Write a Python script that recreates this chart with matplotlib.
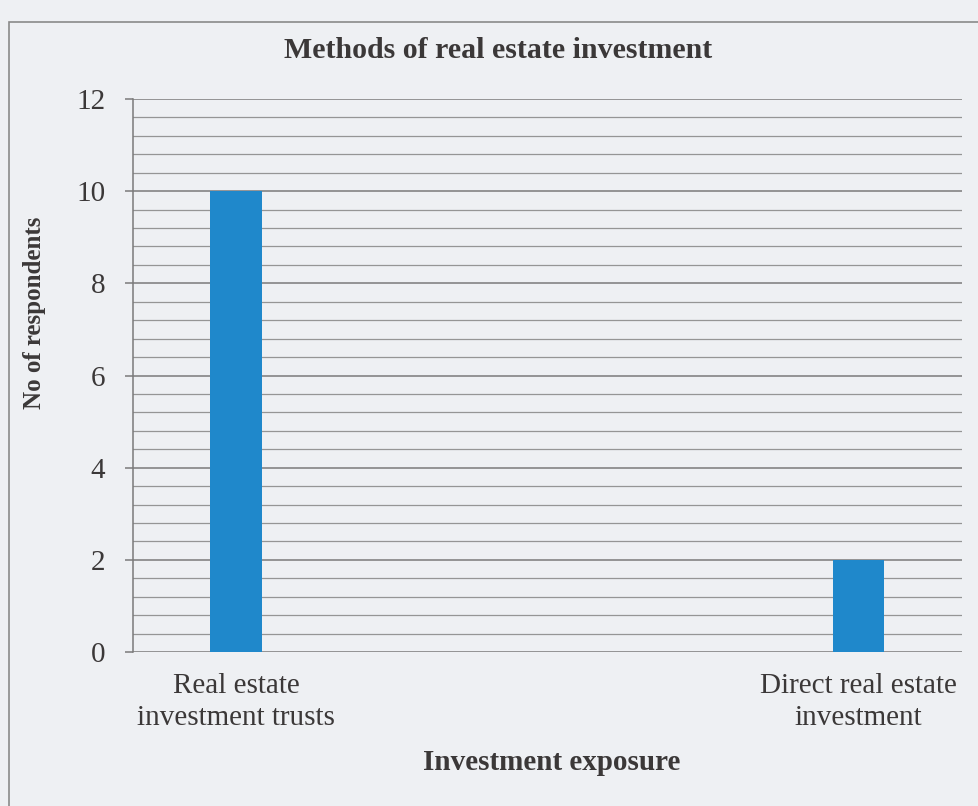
import matplotlib
matplotlib.use("Agg")
import matplotlib.pyplot as plt
from matplotlib.patches import Rectangle
from matplotlib.ticker import MultipleLocator

plt.rcParams['font.family'] = ['Liberation Serif', 'DejaVu Serif']

categories = ['Real estate\ninvestment trusts', 'Direct real estate\ninvestment']
respondents = [10, 2]
title = 'Methods of real estate investment'
xlabel = 'Investment exposure'
ylabel = 'No of respondents'

paper = '#eef0f3'
ink = '#3b3838'
bar_blue = '#1f88cb'

fig = plt.figure(figsize=(9.79, 8.06), dpi=100)
fig.patch.set_facecolor(paper)

# chart frame
fig.patches.append(Rectangle((9 / 979, -0.05), 1.2, 1 - 22 / 806 + 0.05,
                             transform=fig.transFigure, fill=False,
                             edgecolor='#8a8a8a', linewidth=1.2))

ax = fig.add_axes([133 / 979, 1 - 652 / 806, (962 - 133) / 979, (652 - 99) / 806])
ax.set_facecolor('none')

x = list(range(len(categories)))
ax.bar(x, respondents, width=0.083, color=bar_blue, zorder=3)

ax.set_xlim(-0.1655, 1.166)
ax.set_ylim(0, 12)
ax.yaxis.set_major_locator(MultipleLocator(2))
ax.yaxis.set_minor_locator(MultipleLocator(0.4))
ax.grid(which='major', axis='y', color='#7a7a7a', linewidth=1.1, zorder=1)
ax.grid(which='minor', axis='y', color='#959595', linewidth=0.9, zorder=1)

for side in ['top', 'right', 'bottom']:
    ax.spines[side].set_visible(False)
ax.spines['left'].set_color('#7a7a7a')
ax.spines['left'].set_linewidth(1.1)

ax.set_xticks(x)
ax.set_xticklabels(categories, fontsize=21, color=ink, linespacing=1.3)
ax.tick_params(axis='x', length=0, pad=15)
ax.tick_params(axis='y', which='major', length=6, width=1.1, color='#7a7a7a',
               labelsize=21, labelcolor=ink, pad=14)
ax.tick_params(axis='y', which='minor', length=0)

fig.text(498 / 979, 1 - 50 / 806, title, ha='center', va='center',
         fontsize=21.5, fontweight='bold', color=ink)
fig.text(552 / 979, 1 - 762 / 806, xlabel, ha='center', va='center',
         fontsize=21, fontweight='bold', color=ink)
fig.text(35 / 979, 1 - 313 / 806, ylabel, ha='center', va='center',
         rotation=90, fontsize=18, fontweight='bold', color=ink)

fig.savefig('out.png', dpi=100, facecolor=fig.get_facecolor())
